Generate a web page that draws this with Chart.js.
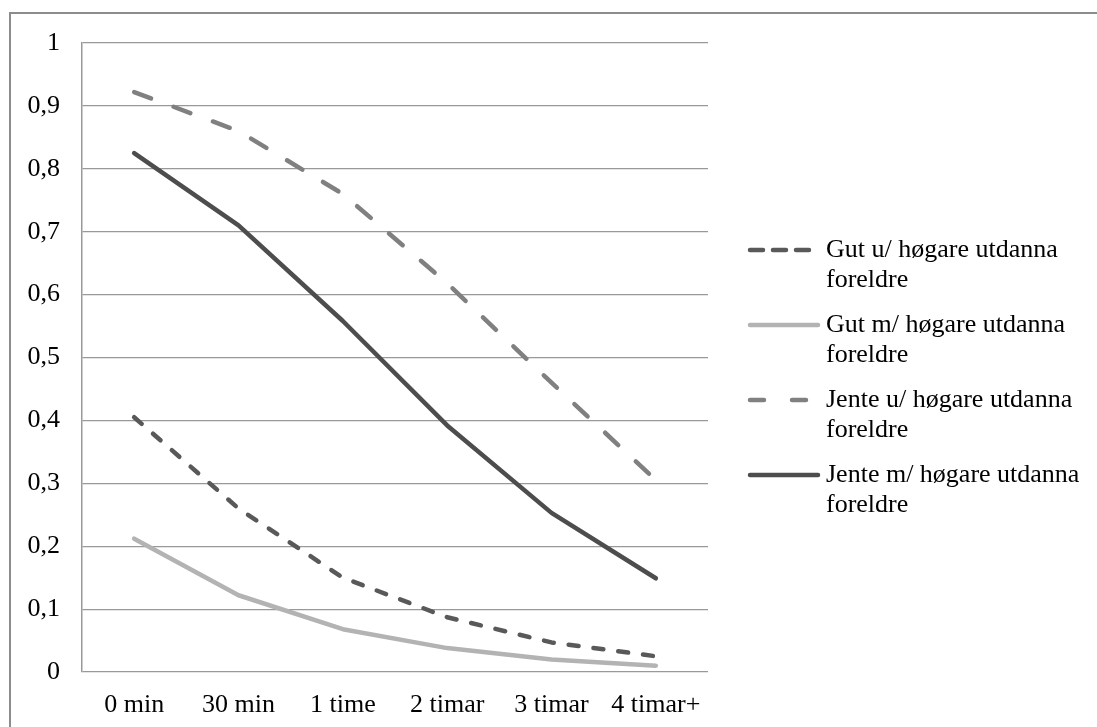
<!DOCTYPE html>
<html>
<head>
<meta charset="utf-8">
<script src="https://cdn.jsdelivr.net/npm/chart.js@4.4.1/dist/chart.umd.min.js"></script>
<style>
  html, body { margin: 0; padding: 0; background: #fff; }
  #wrap { position: relative; width: 1097px; height: 727px; }
  #frame { position: absolute; left: 9px; top: 12px; right: 0; bottom: -10px;
           border-top: 2px solid #8c8c8c; border-left: 2px solid #8c8c8c; pointer-events: none; }
  canvas { position: absolute; left: 0; top: 0; }
</style>
</head>
<body>
<div id="wrap">
  <canvas id="c" width="1097" height="727"></canvas>
  <div id="frame"></div>
</div>
<script>
const categories = ['0 min', '30 min', '1 time', '2 timar', '3 timar', '4 timar+'];
const gutUtan   = [0.405, 0.26, 0.15, 0.087, 0.047, 0.025];
const gutMed    = [0.212, 0.122, 0.068, 0.038, 0.02, 0.01];
const jenteUtan = [0.922, 0.86, 0.76, 0.618, 0.46, 0.305];
const jenteMed  = [0.825, 0.71, 0.558, 0.392, 0.253, 0.149];
const yTickLabels = ['0', '0,1', '0,2', '0,3', '0,4', '0,5', '0,6', '0,7', '0,8', '0,9', '1'];
const legendLabels = [
  ['Gut u/ høgare utdanna', 'foreldre'],
  ['Gut m/ høgare utdanna', 'foreldre'],
  ['Jente u/ høgare utdanna', 'foreldre'],
  ['Jente m/ høgare utdanna', 'foreldre']
];

const FONT = '"Liberation Serif", "Times New Roman", serif';

const legendPlugin = {
  id: 'customLegend',
  afterDraw(chart) {
    const ctx = chart.ctx;
    const area = chart.chartArea;
    const x0 = area.right + 40;
    const lineLen = 72;
    const textX = x0 + lineLen + 6;
    const yStart = area.top + 207;
    const step = 75;
    ctx.save();
    chart.data.datasets.forEach((ds, i) => {
      const y = yStart + i * step;
      ctx.beginPath();
      ctx.strokeStyle = ds.borderColor;
      ctx.lineWidth = ds.borderWidth;
      ctx.lineCap = 'round';
      ctx.setLineDash(ds.legendDash || []);
      ctx.moveTo(x0 + 2, y);
      ctx.lineTo(x0 + lineLen - 2, y);
      ctx.stroke();
      ctx.setLineDash([]);
      ctx.fillStyle = '#000';
      ctx.font = '26px ' + FONT;
      ctx.textBaseline = 'middle';
      ctx.textAlign = 'left';
      legendLabels[i].forEach((t, k) => ctx.fillText(t, textX, y + k * 30));
    });
    ctx.restore();
  }
};

new Chart(document.getElementById('c'), {
  type: 'line',
  data: {
    labels: categories,
    datasets: [
      { label: legendLabels[0].join(' '), data: gutUtan, borderColor: '#595959', borderWidth: 4.5,
        borderDash: [10, 15], legendDash: [13, 10], borderCapStyle: 'round' },
      { label: legendLabels[1].join(' '), data: gutMed, borderColor: '#b3b3b3', borderWidth: 4.5,
        borderCapStyle: 'round' },
      { label: legendLabels[2].join(' '), data: jenteUtan, borderColor: '#808080', borderWidth: 4.5,
        borderDash: [18, 24], legendDash: [14, 28], borderCapStyle: 'round' },
      { label: legendLabels[3].join(' '), data: jenteMed, borderColor: '#4d4d4d', borderWidth: 4.5,
        borderCapStyle: 'round' }
    ]
  },
  options: {
    responsive: false,
    animation: false,
    events: [],
    layout: { padding: { left: 0, top: 43, right: 389, bottom: 0 } },
    elements: {
      point: { radius: 0, hoverRadius: 0 },
      line: { tension: 0, borderJoinStyle: 'round', fill: false }
    },
    plugins: {
      legend: { display: false },
      tooltip: { enabled: false },
      title: { display: false }
    },
    scales: {
      x: {
        offset: true,
        grid: { display: false, drawTicks: false },
        border: { display: false },
        ticks: { color: '#000', font: { family: FONT, size: 26 }, padding: 18, maxRotation: 0, autoSkip: false },
        afterFit(scale) { scale.height = 55; }
      },
      y: {
        min: 0, max: 1,
        grid: { color: '#999999', lineWidth: 1.2, drawTicks: false },
        border: { display: true, color: '#999999', width: 1.5 },
        ticks: {
          stepSize: 0.1,
          color: '#000',
          font: { family: FONT, size: 26 },
          padding: 22,
          callback: (v, i) => yTickLabels[i]
        },
        afterFit(scale) { scale.width = 82; }
      }
    }
  },
  plugins: [legendPlugin]
});
</script>
</body>
</html>
